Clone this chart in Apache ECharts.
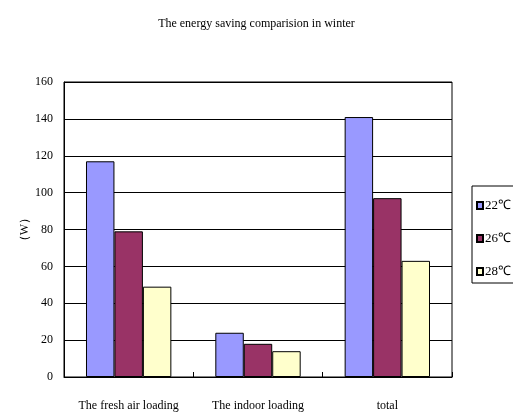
<!DOCTYPE html>
<html>
<head>
<meta charset="utf-8">
<script src="https://cdn.jsdelivr.net/npm/echarts@6/dist/echarts.min.js"></script>
<style>
  html, body { margin: 0; padding: 0; background: #fff; }
  #chart { width: 513px; height: 412px; }
</style>
</head>
<body>
<div id="chart"></div>
<script>
// Winter energy-saving comparison by indoor set temperature
const categories = ['The fresh air loading', 'The indoor loading', 'total'];
const seriesNames = ['22℃', '26℃', '28℃'];
const values22 = [117, 24, 141];
const values26 = [79, 18, 97];
const values28 = [49, 14, 63];
const yTicks = { min: 0, max: 160, interval: 20 };

const colors = ['#9999FF', '#993366', '#FFFFCC'];
const font = '"Liberation Serif", "Times New Roman", serif';

const chart = echarts.init(document.getElementById('chart'), null, { renderer: 'canvas' });

const makeSeries = (name, data, color) => ({
  name,
  type: 'bar',
  data,
  barGap: '0%',
  barCategoryGap: '34%',
  itemStyle: { color, borderColor: '#000', borderWidth: 1 },
  emphasis: { disabled: true },
  animation: false
});

chart.setOption({
  animation: false,
  title: {
    text: 'The energy saving comparision in winter',
    left: 'center',
    top: 13,
    textStyle: { fontFamily: font, fontSize: 12, fontWeight: 'normal', color: '#000' }
  },
  legend: {
    orient: 'vertical',
    left: 472,
    top: 186,
    padding: [13, 30, 5, 4],
    itemGap: 20,
    itemWidth: 6,
    itemHeight: 7,
    icon: 'rect',
    borderColor: '#000',
    borderWidth: 1,
    selectedMode: false,
    textStyle: { fontFamily: font, fontSize: 13, color: '#000', padding: [0, 0, 0, -3] },
    data: seriesNames
  },
  grid: {
    left: 64,
    right: 61,
    top: 82,
    bottom: 35,
    show: true,
    borderColor: '#000',
    borderWidth: 1
  },
  xAxis: {
    type: 'category',
    data: categories,
    axisLine: { lineStyle: { color: '#000', width: 1 } },
    axisTick: { show: true, inside: true, length: 5, lineStyle: { color: '#000' } },
    axisLabel: { fontFamily: font, fontSize: 12, color: '#000', margin: 23, interval: 0 }
  },
  yAxis: {
    type: 'value',
    min: yTicks.min,
    max: yTicks.max,
    interval: yTicks.interval,
    name: '（W）',
    nameLocation: 'middle',
    nameGap: 33,
    nameMoveOverlap: false,
    nameRotate: 90,
    nameTextStyle: { fontFamily: font, fontSize: 12, color: '#000' },
    axisLine: { show: true, lineStyle: { color: '#000', width: 1 } },
    axisTick: { show: false },
    splitLine: { show: true, lineStyle: { color: '#000', width: 1 } },
    axisLabel: { fontFamily: font, fontSize: 12, color: '#000', margin: 11 }
  },
  series: [
    makeSeries(seriesNames[0], values22, colors[0]),
    makeSeries(seriesNames[1], values26, colors[1]),
    makeSeries(seriesNames[2], values28, colors[2])
  ]
});
</script>
</body>
</html>
